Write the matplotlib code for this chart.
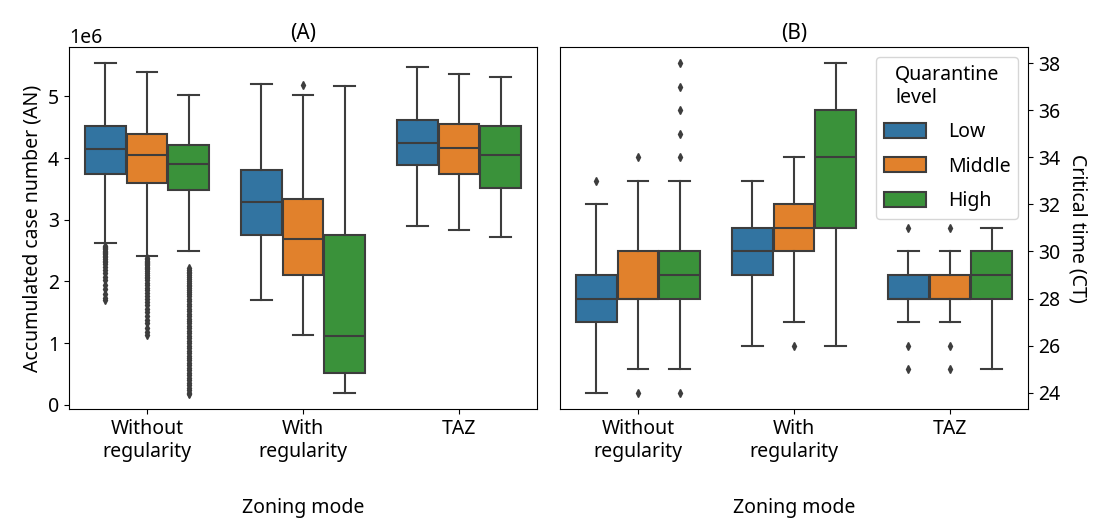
import matplotlib
matplotlib.use('Agg')
import matplotlib.pyplot as plt
from matplotlib.patches import Patch
import numpy as np

plt.rcParams['font.family'] = ['Noto Sans', 'DejaVu Sans']
plt.rcParams['font.size'] = 14

modes = ['Without\nregularity', 'With\nregularity', 'TAZ']
levels = ['Low', 'Middle', 'High']
colors = ['#3274a1', '#e1812c', '#3a923a']
gray = '#3d3d3d'

# (A) accumulated case number, in units of 1e6; rows = mode, cols = level
an_whislo = [[2.63, 2.42, 2.50], [1.70, 1.13, 0.19], [2.90, 2.83, 2.72]]
an_q1 = [[3.75, 3.60, 3.48], [2.75, 2.11, 0.52], [3.88, 3.75, 3.52]]
an_med = [[4.15, 4.05, 3.91], [3.29, 2.69, 1.12], [4.25, 4.17, 4.05]]
an_q3 = [[4.52, 4.39, 4.22], [3.80, 3.34, 2.76], [4.62, 4.55, 4.52]]
an_whishi = [[5.54, 5.39, 5.02], [5.20, 5.02, 5.16], [5.48, 5.36, 5.32]]
an_fliers = [
    [[2.58, 2.56, 2.54, 2.52, 2.50, 2.48, 2.46, 2.44, 2.42, 2.40, 2.37, 2.34, 2.31,
      2.28, 2.24, 2.19, 2.14, 2.08, 2.02, 1.95, 1.88, 1.80, 1.74, 1.70],
     [2.38, 2.36, 2.34, 2.32, 2.30, 2.28, 2.26, 2.24, 2.22, 2.20, 2.17, 2.14, 2.11,
      2.08, 2.05, 2.02, 1.98, 1.94, 1.90, 1.86, 1.82, 1.77, 1.72, 1.67, 1.62, 1.56,
      1.50, 1.44, 1.38, 1.32, 1.25, 1.18, 1.13],
     [2.22, 2.19, 2.16, 2.13, 2.10, 2.07, 2.04, 2.01, 1.98, 1.95, 1.92, 1.89, 1.86,
      1.83, 1.80, 1.76, 1.72, 1.68, 1.64, 1.60, 1.56, 1.52, 1.48, 1.44, 1.40, 1.36,
      1.32, 1.28, 1.24, 1.20, 1.16, 1.12, 1.08, 1.04, 1.00, 0.96, 0.92, 0.88, 0.84,
      0.80, 0.76, 0.72, 0.68, 0.64, 0.60, 0.56, 0.52, 0.48, 0.44, 0.40, 0.36, 0.32,
      0.28, 0.24, 0.20, 0.17]],
    [[], [5.18], []],
    [[], [], []],
]

# (B) critical time
ct_whislo = [[24, 25, 25], [26, 27, 26], [27, 27, 25]]
ct_q1 = [[27, 28, 28], [29, 30, 31], [28, 28, 28]]
ct_med = [[28, 28, 29], [30, 31, 34], [28, 28, 29]]
ct_q3 = [[29, 30, 30], [31, 32, 36], [29, 29, 30]]
ct_whishi = [[32, 33, 33], [33, 34, 38], [30, 30, 31]]
ct_fliers = [
    [[33], [34, 24], [34, 35, 36, 37, 38, 24]],
    [[], [26], []],
    [[31, 26, 25], [31, 26, 25], []],
]

fig = plt.figure(figsize=(11.05, 5.24), dpi=100)
ax1 = fig.add_axes([0.0624, 0.2195, 0.4235, 0.6908])
ax2 = fig.add_axes([0.5068, 0.2195, 0.4235, 0.6908])

width = 0.8 / len(levels)


def draw(ax, whislo, q1, med, q3, whishi, fliers, scale):
    for i in range(len(modes)):
        for j in range(len(levels)):
            st = dict(whislo=whislo[i][j] * scale, q1=q1[i][j] * scale,
                      med=med[i][j] * scale, q3=q3[i][j] * scale,
                      whishi=whishi[i][j] * scale,
                      fliers=np.array(fliers[i][j]) * scale)
            pos = i + (j - 1) * width
            ax.bxp([st], positions=[pos], widths=[width * 0.98], patch_artist=True,
                   showfliers=True, manage_ticks=False,
                   boxprops=dict(facecolor=colors[j], edgecolor=gray, linewidth=1.5),
                   medianprops=dict(color=gray, linewidth=1.5),
                   whiskerprops=dict(color=gray, linewidth=1.5),
                   capprops=dict(color=gray, linewidth=1.5),
                   flierprops=dict(marker='d', markersize=4, markerfacecolor=gray,
                                   markeredgecolor=gray, linestyle='none'))
    ax.set_xlim(-0.5, len(modes) - 0.5)
    ax.set_xticks(range(len(modes)))
    ax.set_xticklabels(modes)
    ax.set_xlabel('Zoning mode', labelpad=26)


draw(ax1, an_whislo, an_q1, an_med, an_q3, an_whishi, an_fliers, 1e6)
draw(ax2, ct_whislo, ct_q1, ct_med, ct_q3, ct_whishi, ct_fliers, 1)

ax1.set_ylim(-0.066e6, 5.8e6)
ax1.set_yticks([0, 1e6, 2e6, 3e6, 4e6, 5e6])
ax1.set_ylabel('Accumulated case number (AN)')
ax1.set_title('(A)', fontsize=15)

ax2.set_ylim(23.3, 38.7)
ax2.set_yticks(range(24, 39, 2))
ax2.yaxis.tick_right()
ax2.yaxis.set_label_position('right')
ax2.set_ylabel('Critical time (CT)', rotation=270, labelpad=20)
ax2.set_title('(B)', fontsize=15)

handles = [Patch(facecolor=c, edgecolor=gray, linewidth=1.5) for c in colors]
ax2.legend(handles, levels, title='Quarantine\nlevel', loc='upper right',
           title_fontsize=14, labelspacing=0.75, handletextpad=1.1,
           handlelength=2.2, handleheight=0.8)

fig.savefig('out.png', dpi=100)
